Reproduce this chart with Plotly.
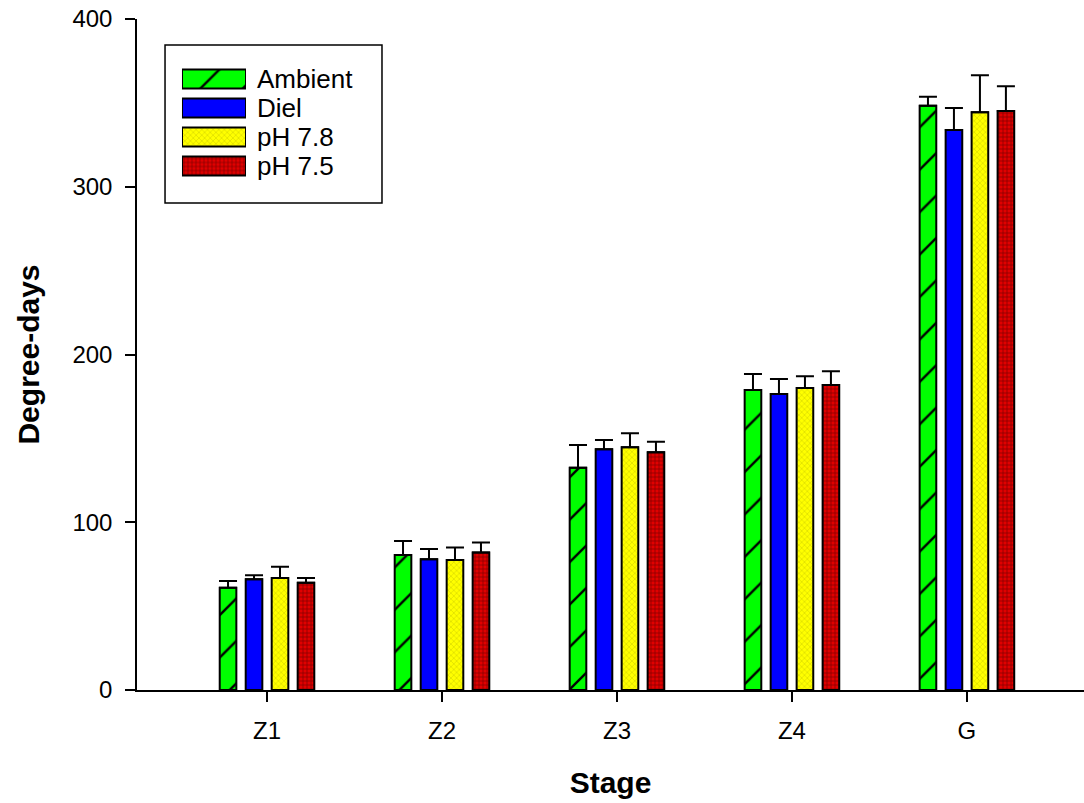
import plotly.graph_objects as go

# Development time (degree-days) to reach each larval stage, by treatment
stages = ["Z1", "Z2", "Z3", "Z4", "G"]

ambient = [61, 80.5, 132.5, 178.8, 348.3]
ambient_err = [4, 8.3, 13.5, 9.6, 5.4]

diel = [66, 78, 143.5, 176.5, 333.8]
diel_err = [2.4, 6, 5.5, 8.9, 13.2]

ph78 = [66.8, 77.5, 144.7, 180, 344.4]
ph78_err = [6.7, 7.5, 8.3, 7, 22]

ph75 = [64, 82, 141.7, 181.8, 345.2]
ph75_err = [2.8, 6, 6.3, 8.2, 14.7]

treatments = ["Ambient", "Diel", "pH 7.8", "pH 7.5"]
fill_colors = ["#00FF00", "#0000FF", "#FFFF00", "#E00000"]
pattern_shapes = ["/", "", "x", "+"]
pattern_fg = ["black", "#0000FF", "#D8D800", "#7A0000"]
pattern_sizes = [30, 8, 4, 4]
pattern_solidity = [0.08, 0.3, 0.3, 0.3]

values = [ambient, diel, ph78, ph75]
errors = [ambient_err, diel_err, ph78_err, ph75_err]

font_family = "Liberation Sans, Arial, sans-serif"


def fill_pattern(i):
    return dict(fillmode="replace", shape=pattern_shapes[i],
                size=pattern_sizes[i], solidity=pattern_solidity[i],
                fgcolor=pattern_fg[i], bgcolor=fill_colors[i], fgopacity=1)


fig = go.Figure()
for i, name in enumerate(treatments):
    fig.add_trace(go.Bar(
        name=name, x=stages, y=values[i], showlegend=False,
        marker=dict(color=fill_colors[i],
                    line=dict(color="black", width=2),
                    pattern=fill_pattern(i)),
        error_y=dict(type="data", array=errors[i],
                     arrayminus=[0] * len(errors[i]), symmetric=False,
                     color="black", thickness=2, width=9),
    ))

# Legend key: one swatch per treatment on a small inset axis,
# with the treatment names as that axis' tick labels
for i, name in enumerate(treatments):
    fig.add_trace(go.Bar(
        orientation="h", y=[name], x=[1], base=0, width=0.66,
        offsetgroup="key", xaxis="x2", yaxis="y2",
        showlegend=False, hoverinfo="skip",
        marker=dict(color=fill_colors[i],
                    line=dict(color="black", width=2),
                    pattern=fill_pattern(i)),
    ))

fig.update_layout(
    width=1084, height=803,
    margin=dict(l=137, r=0, t=19, b=113),
    paper_bgcolor="white", plot_bgcolor="white",
    barmode="group", bargap=0.406, bargroupgap=0.36,
    font=dict(family=font_family, size=24, color="black"),
    showlegend=False,
    xaxis=dict(
        domain=[0, 1],
        range=[-0.743, 4.669], showline=True, linecolor="black", linewidth=1.5,
        ticks="outside", ticklen=10, tickwidth=1.5, tickcolor="black",
        tickfont=dict(size=24), ticklabelstandoff=8,
        showgrid=False, zeroline=False,
        title=dict(text="<b>Stage</b>", font=dict(size=30), standoff=29),
    ),
    yaxis=dict(
        domain=[0, 1],
        range=[0, 400], tickvals=[0, 100, 200, 300, 400],
        showline=True, linecolor="black", linewidth=1.5,
        ticks="outside", ticklen=10, tickwidth=1.5, tickcolor="black",
        tickfont=dict(size=24), ticklabelstandoff=8,
        showgrid=False, zeroline=False,
        title=dict(text="<b>Degree-days</b>", font=dict(size=30), standoff=24),
    ),
    xaxis2=dict(
        domain=[0.0475, 0.1151], range=[0, 1], anchor="y2",
        visible=False, fixedrange=True,
    ),
    yaxis2=dict(
        domain=[0.7593, 0.9322], anchor="x2", side="right",
        categoryorder="array", categoryarray=treatments,
        tickmode="array", tickvals=treatments, ticktext=treatments,
        autorange="reversed", showline=False, showgrid=False,
        zeroline=False, ticks="", tickfont=dict(size=26),
        ticklabelstandoff=10, fixedrange=True,
    ),
    shapes=[dict(
        type="rect", xref="paper", yref="paper",
        x0=0.0296, x1=0.2587, y0=0.7258, y1=0.9613,
        line=dict(color="black", width=1.5), fillcolor="rgba(0,0,0,0)",
        layer="below",
    )],
)

fig.write_html("out.html")
